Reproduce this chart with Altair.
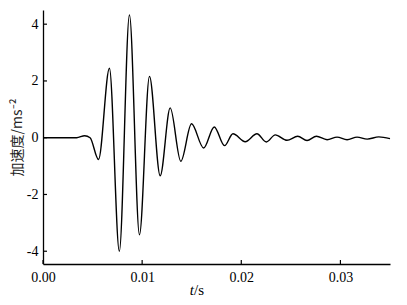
import altair as alt
import pandas as pd

# waveform key points (time in s, acceleration in m/s^2)
t_vals = [0.0, 0.0034, 0.0042, 0.00475, 0.0056, 0.0067, 0.0077, 0.00872, 0.00973,
          0.01074, 0.01182, 0.01283, 0.0139, 0.01498, 0.0162, 0.01727, 0.01831,
          0.01916, 0.0204, 0.02158, 0.02253, 0.02343, 0.02461, 0.02569, 0.02663,
          0.02758, 0.02865, 0.02966, 0.03067, 0.03168, 0.0327, 0.03387, 0.035]
a_vals = [0.0, 0.0, 0.07, 0.0, -0.77, 2.45, -4.0, 4.33, -3.42,
          2.16, -1.34, 1.05, -0.83, 0.49, -0.36, 0.38, -0.28,
          0.14, -0.14, 0.14, -0.15, 0.10, -0.09, 0.05, -0.10,
          0.05, -0.07, 0.02, -0.07, 0.02, -0.05, 0.03, -0.03]

x_ticks = [0.0, 0.01, 0.02, 0.03]
y_ticks = [-4, -2, 0, 2, 4]

W, H = 347, 254
FONT = "Liberation Serif"

df = pd.DataFrame({"t": t_vals, "a": a_vals})
xscale = alt.Scale(domain=[0, 0.035], nice=False, zero=False)
yscale = alt.Scale(domain=[-4.45, 4.5], nice=False, zero=False)

line = alt.Chart(df).mark_line(color="black", strokeWidth=1.4, interpolate="monotone").encode(
    x=alt.X("t:Q", scale=xscale,
            axis=alt.Axis(values=x_ticks, format=".2f", title=None, ticks=False,
                          labelFlush=False, labelPadding=6, domainColor="black", domainWidth=1.3,
                          labelFont=FONT, labelFontSize=14, labelColor="black", grid=False)),
    y=alt.Y("a:Q", scale=yscale,
            axis=alt.Axis(values=y_ticks, title="加速度/ms⁻²", ticks=False,
                          labelExpr="datum.value < 0 ? '-' + abs(datum.value) : '' + datum.value",
                          labelPadding=5, domainColor="black", domainWidth=1.3,
                          labelFont=FONT, labelFontSize=14, labelColor="black",
                          titleFont="Noto Sans CJK SC", titleFontSize=14,
                          titleFontWeight="normal", titleColor="#222",
                          titleX=-19, titleY=H / 2, titleAlign="center", titleBaseline="bottom",
                          titleAngle=270,
                          grid=False)),
)

xt = alt.Chart(pd.DataFrame({"v": x_ticks})).mark_rule(color="black", strokeWidth=1.2).encode(
    x=alt.X("v:Q", scale=xscale), y=alt.value(H), y2=alt.value(H - 4))
yt = alt.Chart(pd.DataFrame({"v": y_ticks})).mark_rule(color="black", strokeWidth=1.2).encode(
    y=alt.Y("v:Q", scale=yscale), x=alt.value(0), x2=alt.value(4))

t1 = alt.Chart(pd.DataFrame({"s": ["t"]})).mark_text(
    font=FONT, fontSize=15, fontStyle="italic", align="right", baseline="alphabetic", color="black"
).encode(text="s:N", x=alt.value(151), y=alt.value(285))
t2 = alt.Chart(pd.DataFrame({"s": ["/s"]})).mark_text(
    font=FONT, fontSize=15, align="left", baseline="alphabetic", color="black"
).encode(text="s:N", x=alt.value(151), y=alt.value(285))

chart = alt.layer(line, xt, yt, t1, t2).properties(
    width=W, height=H,
    autosize=alt.AutoSizeParams(type="none"),
    padding={"left": 35, "top": 2, "right": 8, "bottom": 33},
    background="white",
).configure_view(stroke=None)

chart.save("out.html", embed_options={"renderer": "svg", "actions": False})
